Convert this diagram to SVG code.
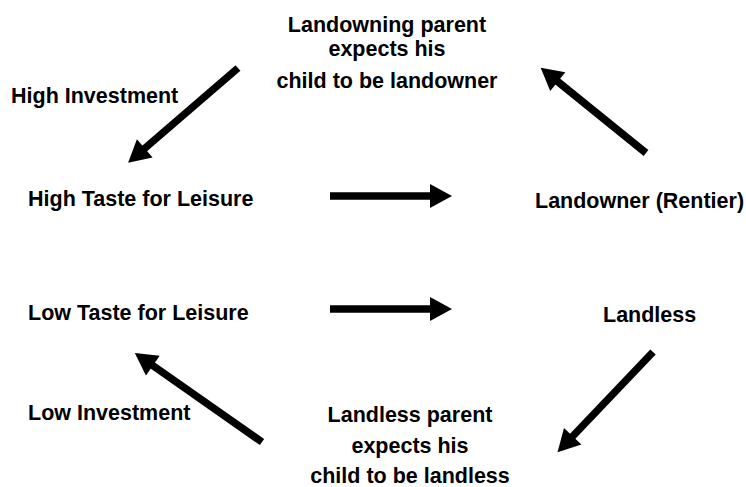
<svg xmlns="http://www.w3.org/2000/svg" width="746" height="487" viewBox="0 0 746 487">
<style>
text { font-family: "Liberation Sans", Arial, sans-serif; font-weight: bold; font-size: 21.5px; fill: #000; }
.c { text-anchor: middle; }
.arrow { stroke: #000; stroke-width: 7.5; fill: none; marker-end: url(#head); }
</style>
<defs>
<marker id="head" markerUnits="userSpaceOnUse" markerWidth="24" markerHeight="26" viewBox="0 0 24 26" refX="1" refY="13" orient="auto" overflow="visible">
<path d="M0,1 L22,13 L0,25 z" fill="#000"/>
</marker>
</defs>
<rect width="746" height="487" fill="#fff"/>
<g id="connectors">
<line class="arrow" x1="238" y1="68" x2="144" y2="149"/>
<line class="arrow" x1="646" y1="153" x2="557" y2="81"/>
<line class="arrow" x1="330" y1="196" x2="431" y2="196"/>
<line class="arrow" x1="330" y1="309" x2="431" y2="309"/>
<line class="arrow" x1="653" y1="352" x2="572" y2="437"/>
<line class="arrow" x1="262" y1="442" x2="152" y2="365"/>
</g>
<g id="landowning-parent">
<text class="c" x="387" y="32">Landowning parent</text>
<text class="c" x="387" y="56">expects his</text>
<text class="c" x="387" y="88">child to be landowner</text>
</g>
<g id="high-investment"><text x="11" y="103">High Investment</text></g>
<g id="high-taste"><text x="28" y="206">High Taste for Leisure</text></g>
<g id="landowner"><text x="535" y="208">Landowner (Rentier)</text></g>
<g id="low-taste"><text x="28" y="320">Low Taste for Leisure</text></g>
<g id="landless"><text x="603" y="322">Landless</text></g>
<g id="low-investment"><text x="28" y="420">Low Investment</text></g>
<g id="landless-parent">
<text class="c" x="410" y="422">Landless parent</text>
<text class="c" x="410" y="453">expects his</text>
<text class="c" x="410" y="483">child to be landless</text>
</g>
</svg>
